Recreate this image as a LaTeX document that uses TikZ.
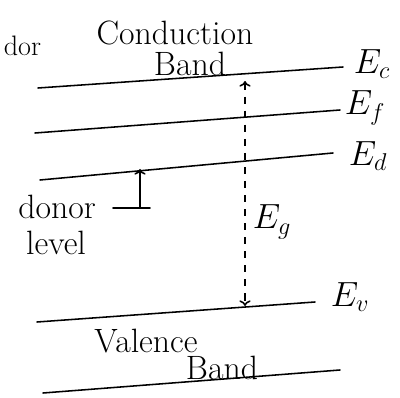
\documentclass[tikz,border=0pt]{standalone}
\usetikzlibrary{arrows.meta}
\begin{document}
\begin{tikzpicture}[x=0.025cm,y=-0.025cm,line width=1.1pt,
  >={To[length=4pt,width=8pt]},
  band/.style={line cap=round},
  lbl/.style={font=\fontsize{27}{29}\selectfont,inner sep=0pt},
  hint/.style={font=\fontsize{24}{26}\selectfont,inner sep=0pt}]
\useasboundingbox (0,0) rectangle (400,398);
\coordinate (ecL) at (38,88);  \coordinate (ecR) at (343,67);
\coordinate (efL) at (35,133); \coordinate (efR) at (340,110);
\coordinate (edL) at (40,180); \coordinate (edR) at (333,153);
\coordinate (evL) at (37,322); \coordinate (evR) at (315,302);
\coordinate (vbL) at (43,393); \coordinate (vbR) at (340,370);
\draw[band] (ecL) -- (ecR);
\draw[band] (efL) -- (efR);
\draw[band] (edL) -- (edR);
\draw[band] (evL) -- (evR);
\draw[band] (vbL) -- (vbR);
\node[lbl] (ec) at (372,64) {$E_c$};
\node[lbl] (ef) at (365,108) {$E_f$};
\node[lbl] (ed) at (368,156) {$E_d$};
\node[lbl] (ev) at (350,297) {$E_v$};

\coordinate (egtop) at (245,81);
\coordinate (egbot) at (245,306);
\draw[<->,dash pattern=on 5pt off 5pt] (egtop) -- (egbot);
\node[lbl] (eg) at (272,222) {$E_g$};

\coordinate (dlL) at (113,208); \coordinate (dlR) at (150,208);
\draw[band] (dlL) -- (dlR);
\coordinate (dlup) at (140,169);
\draw[->] (140,208) -- (dlup);
\node[hint] (donor) at (57,207) {donor};
\node[hint] (level) at (56,243) {level};

\node[hint] (cond) at (175,33) {Conduction};
\node[hint] (cband) at (190,64) {Band};
\node[hint] (val) at (146,341) {Valence};
\node[hint] (vband) at (222,368) {Band};
\node[hint,font=\fontsize{20}{22}\selectfont,anchor=west] (dor) at (3,46) {dor};
\end{tikzpicture}
\end{document}
